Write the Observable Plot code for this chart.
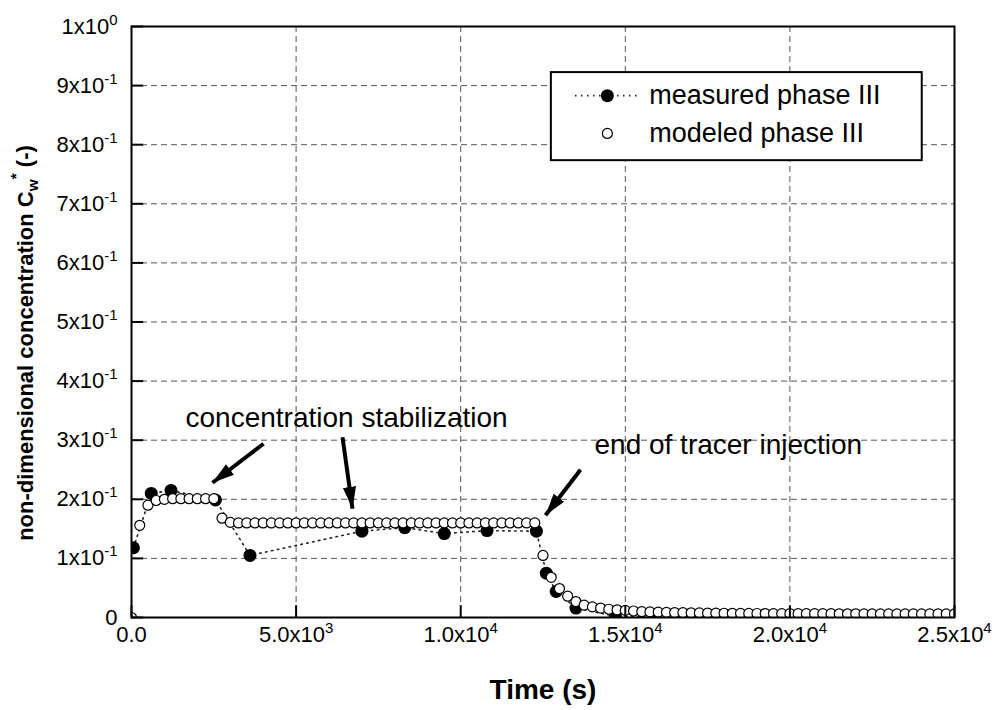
<!DOCTYPE html>
<html><head><meta charset="utf-8">
<script src="https://cdn.jsdelivr.net/npm/d3@7"></script>
<script src="https://cdn.jsdelivr.net/npm/@observablehq/plot@0.6"></script>
<style>body{margin:0;background:#fff}</style>
</head><body><div id="chart"></div>
<script>
// ---- data ----
const measuredTime = [60, 600, 1200, 2550, 3600, 7000, 8300, 9500, 10800, 12300, 12600, 12900, 13500, 14700, 15900];
const measuredConc = [0.118, 0.21, 0.215, 0.199, 0.105, 0.146, 0.152, 0.142, 0.147, 0.146, 0.075, 0.044, 0.016, 0.002, 0.001];

const modeledTime = [0, 250, 500, 750, 1000, 1250, 1500, 1750, 2000, 2250, 2500, 2750, 3000,
  3250, 3500, 3750, 4000, 4250, 4500, 4750, 5000, 5250, 5500, 5750, 6000, 6250, 6500, 6750, 7000,
  7250, 7500, 7750, 8000, 8250, 8500, 8750, 9000, 9250, 9500, 9750, 10000, 10250, 10500, 10750, 11000,
  11250, 11500, 11750, 12000, 12250, 12500, 12750, 13000, 13250, 13500, 13750, 14000, 14250, 14500,
  14750, 15000, 15250, 15500, 15750, 16000, 16250, 16500, 16750, 17000, 17250, 17500, 17750, 18000,
  18250, 18500, 18750, 19000, 19250, 19500, 19750, 20000, 20250, 20500, 20750, 21000, 21250, 21500,
  21750, 22000, 22250, 22500, 22750, 23000, 23250, 23500, 23750, 24000, 24250, 24500, 24750, 25000];
const modeledConc = [0, 0.156, 0.19, 0.198, 0.200, 0.201, 0.201, 0.201, 0.201, 0.201, 0.201, 0.168, 0.161,
  0.160, 0.160, 0.160, 0.160, 0.160, 0.160, 0.160, 0.160, 0.160, 0.160, 0.160, 0.160, 0.160, 0.160, 0.160, 0.160,
  0.160, 0.160, 0.160, 0.160, 0.160, 0.160, 0.160, 0.160, 0.160, 0.160, 0.160, 0.160, 0.160, 0.160, 0.160, 0.160,
  0.160, 0.160, 0.160, 0.160, 0.160, 0.105, 0.068, 0.049, 0.036, 0.027, 0.021, 0.018, 0.016, 0.014,
  0.013, 0.012, 0.011, 0.010, 0.0095, 0.009, 0.0087, 0.0084, 0.0081, 0.0079, 0.0077, 0.0075, 0.0073, 0.0072,
  0.0071, 0.0070, 0.0069, 0.0068, 0.0067, 0.0066, 0.0066, 0.0065, 0.0065, 0.0065, 0.0064, 0.0064, 0.0064, 0.0063,
  0.0063, 0.0063, 0.0062, 0.0062, 0.0062, 0.0062, 0.0061, 0.0061, 0.0061, 0.0061, 0.0060, 0.0060, 0.0060, 0.0060];

const xTicks = [0, 5000, 10000, 15000, 20000, 25000];
const xTickLabels = ["0.0", "5.0x10^3", "1.0x10^4", "1.5x10^4", "2.0x10^4", "2.5x10^4"];
const yTicks = [0, 0.1, 0.2, 0.3, 0.4, 0.5, 0.6, 0.7, 0.8, 0.9, 1.0];
const yTickLabels = ["0", "1x10^-1", "2x10^-1", "3x10^-1", "4x10^-1", "5x10^-1", "6x10^-1", "7x10^-1", "8x10^-1", "9x10^-1", "1x10^0"];

const seriesNames = ["measured phase III", "modeled phase III"];

// annotations (data coordinates)
const annotationTexts = [
  {label: "concentration stabilization", x: 1640, y: 0.338},
  {label: "end of tracer injection", x: 14064, y: 0.291}
];
const annotationArrows = [
  {x1: 4010, y1: 0.294, x2: 2460, y2: 0.228},
  {x1: 6410, y1: 0.305, x2: 6713, y2: 0.184},
  {x1: 13640, y1: 0.250, x2: 12576, y2: 0.173}
];
// legend layout (data coordinates)
const legendBox = {x1: 12754, x2: 24020, y1: 0.773, y2: 0.922};
const legendRows = [
  {name: seriesNames[0], y: 0.883},
  {name: seriesNames[1], y: 0.819}
];
const legendSymbolX = 14455, legendLineX1 = 13487, legendLineX2 = 15460, legendTextX = 15730;

// ---- build ----
const measured = measuredTime.map((t, i) => ({t, c: measuredConc[i]}));
const modeled = modeledTime.map((t, i) => ({t, c: modeledConc[i]}));

const font = "'Liberation Sans', Arial, Helvetica, sans-serif";

const plot = Plot.plot({
  width: 997, height: 710,
  marginLeft: 131, marginRight: 43, marginTop: 26, marginBottom: 93,
  style: {fontFamily: font, fontSize: "22px", color: "black", background: "white", overflow: "visible"},
  x: {domain: [0, 25000]},
  y: {domain: [0, 1]},
  marks: [
    Plot.gridX(xTicks, {stroke: "#555", strokeOpacity: 1, strokeWidth: 1, strokeDasharray: "6,4"}),
    Plot.gridY(yTicks, {stroke: "#555", strokeOpacity: 1, strokeWidth: 1, strokeDasharray: "6,4"}),
    Plot.line(measured, {x: "t", y: "c", stroke: "#222", strokeWidth: 1.6, strokeDasharray: "1.5,4.5", clip: true}),
    Plot.dot(measured, {x: "t", y: "c", r: 6.5, fill: "black", stroke: "none", clip: true}),
    Plot.dot(modeled, {x: "t", y: "c", r: 5, fill: "white", stroke: "black", strokeWidth: 1.2, clip: true}),
    Plot.ruleX(xTicks, {x: d => d, y1: 0, y2: 0.02, stroke: "black", strokeWidth: 2}),
    Plot.ruleY(yTicks, {y: d => d, x1: 0, x2: 370, stroke: "black", strokeWidth: 2}),
    Plot.frame({stroke: "black", strokeWidth: 2}),
    // legend
    Plot.rect([legendBox], {x1: "x1", x2: "x2", y1: "y1", y2: "y2", fill: "white", stroke: "black", strokeWidth: 2}),
    Plot.ruleY([legendRows[0]], {y: "y", x1: legendLineX1, x2: legendLineX2, stroke: "#222", strokeWidth: 1.6, strokeDasharray: "1.5,4.5"}),
    Plot.dot([legendRows[0]], {x: legendSymbolX, y: "y", r: 6.5, fill: "black"}),
    Plot.dot([legendRows[1]], {x: legendSymbolX, y: "y", r: 5, fill: "white", stroke: "black", strokeWidth: 1.2}),
    Plot.text(legendRows, {x: legendTextX, y: "y", text: "name", textAnchor: "start", fontSize: 27, fill: "black"}),
    // annotations
    Plot.link(annotationArrows, {x1: "x1", y1: "y1", x2: "x2", y2: "y2", stroke: "black", strokeWidth: 4, markerEnd: "arrow"}),
    Plot.text(annotationTexts, {x: "x", y: "y", text: "label", textAnchor: "start", fontSize: 28, fill: "black"}),
    // axes
    Plot.axisX({ticks: xTicks, tickFormat: d => xTickLabels[xTicks.indexOf(d)], tickSize: 0, tickPadding: 9, label: null, fontSize: 22}),
    Plot.axisY({ticks: yTicks, tickFormat: d => yTickLabels[yTicks.indexOf(d)], tickSize: 0, tickPadding: 14, label: null, fontSize: 22})
  ]
});

const ns = "http://www.w3.org/2000/svg";
// superscripts in tick labels
plot.querySelectorAll("text").forEach(t => {
  const s = t.textContent;
  const i = s.indexOf("^");
  if (i < 0) return;
  t.textContent = s.slice(0, i);
  const ts = document.createElementNS(ns, "tspan");
  ts.setAttribute("dy", "-0.6em");
  ts.setAttribute("font-size", "68%");
  ts.textContent = s.slice(i + 1);
  t.appendChild(ts);
});
// filled arrowheads
plot.querySelectorAll("marker").forEach(m => {
  m.setAttribute("viewBox", "0 -5 10 10");
  m.setAttribute("refX", "10");
  m.setAttribute("refY", "0");
  m.setAttribute("markerUnits", "userSpaceOnUse");
  m.setAttribute("markerWidth", "22");
  m.setAttribute("markerHeight", "22");
  m.setAttribute("fill", "black");
  m.setAttribute("stroke", "none");
  m.innerHTML = "";
  const p = document.createElementNS(ns, "path");
  p.setAttribute("d", "M0,-3L10,0L0,3Z");
  m.appendChild(p);
});
// axis titles
const xt = document.createElementNS(ns, "text");
xt.setAttribute("x", "543"); xt.setAttribute("y", "699");
xt.setAttribute("text-anchor", "middle");
xt.setAttribute("font-weight", "bold"); xt.setAttribute("font-size", "28");
xt.setAttribute("font-family", font); xt.setAttribute("fill", "black");
xt.textContent = "Time (s)";
plot.appendChild(xt);

const yt = document.createElementNS(ns, "text");
yt.setAttribute("transform", "translate(33,343) rotate(-90)");
yt.setAttribute("text-anchor", "middle");
yt.setAttribute("font-weight", "bold"); yt.setAttribute("font-size", "22");
yt.setAttribute("font-family", font); yt.setAttribute("fill", "black");
const parts = [["non-dimensional concentration C", null], ["w", "0.35em"], ["*", "-1.1em"], [" (-)", "0.5em"]];
parts.forEach(([txt, dy], k) => {
  const ts = document.createElementNS(ns, "tspan");
  ts.textContent = txt;
  if (dy) ts.setAttribute("dy", dy);
  if (k === 1 || k === 2) ts.setAttribute("font-size", "70%");
  yt.appendChild(ts);
});
plot.appendChild(yt);

document.getElementById("chart").appendChild(plot);
</script>
</body></html>
